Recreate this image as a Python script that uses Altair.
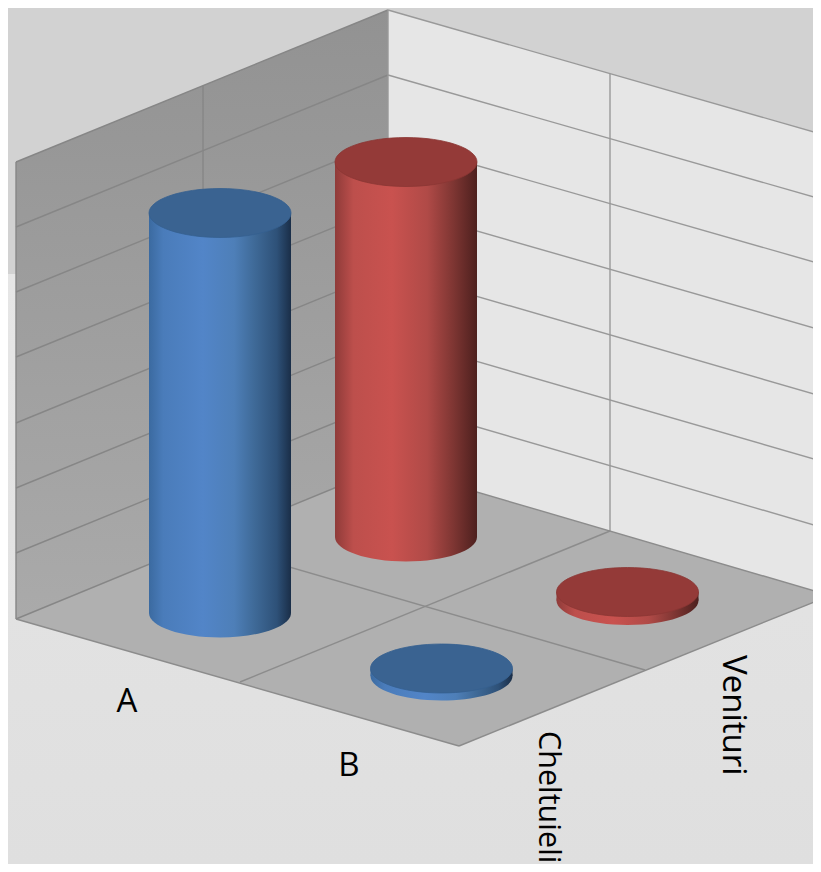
import altair as alt
import pandas as pd

# --- values (picture pixel coordinates) ---
left_wall_x = [16, 388]
left_wall_top = [162, 10]
left_wall_bottom = [619, 466]
right_wall_x = [388, 821]
right_wall_top = [10, 134]
right_wall_bottom = [466, 592.5]
floor_x = [16, 388, 459, 830]
floor_far = [619, 466, 487, 595.5]
floor_near = [619, 725.6, 746, 595.5]

left_grid_a = [162, 227, 292, 357, 423, 488, 553]
right_grid_mid = [10, 75, 140, 205.4, 270.6, 335.7, 401]
right_grid_end = [134, 199, 264, 330, 396, 461, 527]

categories = ["A", "B"]
series = ["Cheltuieli", "Venituri"]
cyl_x = [220, 406, 441.5, 627.5]
cyl_series = ["blue", "red", "blue", "red"]
cyl_top = [213, 162, 668.5, 592]
cyl_base = [613, 537, 676, 600.5]
cyl_half_w = [71, 71, 71, 71]

BLUE_TOP = "#3a6391"
RED_TOP = "#943a38"
blue_grad = alt.Gradient(gradient="linear", x1=0, x2=1, y1=0, y2=0, stops=[
    alt.GradientStop(color="#3b6aa0", offset=0), alt.GradientStop(color="#4a7cba", offset=0.1),
    alt.GradientStop(color="#5285c8", offset=0.38), alt.GradientStop(color="#4e7fb8", offset=0.6),
    alt.GradientStop(color="#3f6a98", offset=0.74), alt.GradientStop(color="#2e5178", offset=0.9),
    alt.GradientStop(color="#1a2e48", offset=1)])
red_grad = alt.Gradient(gradient="linear", x1=0, x2=1, y1=0, y2=0, stops=[
    alt.GradientStop(color="#8f3b39", offset=0), alt.GradientStop(color="#bd4f4c", offset=0.13),
    alt.GradientStop(color="#c9524f", offset=0.4), alt.GradientStop(color="#b04a47", offset=0.65),
    alt.GradientStop(color="#7f3633", offset=0.83), alt.GradientStop(color="#4d201e", offset=1)])

ELLIPSE = "M-1,0C-1,-.19 -.55,-.345 0,-.345C.55,-.345 1,-.19 1,0C1,.19 .55,.345 0,.345C-.55,.345 -1,.19 -1,0Z"
ELLIPSE_SIZE = 142 ** 2

xs = alt.Scale(domain=[8, 813])
ys = alt.Scale(domain=[864, 8])
X = alt.X("x:Q", scale=xs, axis=None)
Y = alt.Y("y:Q", scale=ys, axis=None)


def vgrad(top, bottom):
    return alt.Gradient(gradient="linear", x1=0, x2=0, y1=0, y2=1,
                        stops=[alt.GradientStop(color=top, offset=0), alt.GradientStop(color=bottom, offset=1)])


def rect(x0, x1, y0, y1, fill):
    d = pd.DataFrame({"x": [x0], "x2": [x1], "y": [y0], "y2": [y1]})
    return alt.Chart(d).mark_rect(fill=fill, clip=True).encode(X, alt.X2("x2:Q"), Y, alt.Y2("y2:Q"))


def poly(x, y, y2, fill):
    d = pd.DataFrame({"x": x, "y": y, "y2": y2})
    return alt.Chart(d).mark_area(fill=fill, clip=True, line=False).encode(X, Y, alt.Y2("y2:Q"))


def lines(segments, color, width=1.4):
    rows = []
    for i, (x0, y0, x1, y1) in enumerate(segments):
        rows += [{"x": x0, "y": y0, "id": i}, {"x": x1, "y": y1, "id": i}]
    return alt.Chart(pd.DataFrame(rows)).mark_line(color=color, strokeWidth=width, clip=True).encode(
        X, Y, alt.Detail("id:N"))


def ellipse(x, y, fill, stroke=None):
    d = pd.DataFrame({"x": [x], "y": [y]})
    kw = dict(stroke=stroke, strokeWidth=0.8) if stroke else dict(strokeWidth=0)
    return alt.Chart(d).mark_point(shape=ELLIPSE, size=ELLIPSE_SIZE, filled=True, fill=fill, opacity=1, **kw).encode(X, Y)


layers = [
    rect(8, 813, 8, 274, "#d2d2d2"),
    rect(8, 813, 274, 864, vgrad("#e6e6e6", "#dfdfdf")),
    poly(left_wall_x, left_wall_top, left_wall_bottom, vgrad("#929292", "#aaaaaa")),
    poly(right_wall_x, right_wall_top, right_wall_bottom, "#e6e6e6"),
    poly(floor_x, floor_far, floor_near, "#b0b0b0"),
    lines([(16, a, 388, b) for a, b in zip(left_grid_a, right_grid_mid)] +
          [(203, 86, 203, 542), (16, 162, 16, 619), (16, 619, 388, 466)], "#868686"),
    lines([(388, a, 821, b) for a, b in zip(right_grid_mid, right_grid_end)] +
          [(610, 74, 610, 531), (388, 10, 388, 466)], "#999999"),
    lines([(388, 466, 830, 595.5), (16, 619, 459, 746), (459, 746, 830, 595.5),
           (240, 682, 610, 531), (203, 542, 645, 670)], "#8c8c8c"),
]

for i, (cx, s, top, base, hw) in enumerate(zip(cyl_x, cyl_series, cyl_top, cyl_base, cyl_half_w)):
    grad = blue_grad if s == "blue" else red_grad
    cap = BLUE_TOP if s == "blue" else RED_TOP
    capline = "#35608f" if s == "blue" else "#8a3634"
    layers += [
        ellipse(cx, base, grad),
        rect(cx - hw, cx + hw, top, base, grad),
        ellipse(cx, top, cap, capline),
    ]

labels = pd.DataFrame({"x": [127, 349], "y": [712, 776], "t": categories})
layers.append(alt.Chart(labels).mark_text(font="Open Sans", fontSize=33, color="#000000", align="center",
                                          baseline="alphabetic").encode(X, Y, alt.Text("t:N")))
label_a = pd.DataFrame({"x": [539], "y": [731], "t": [series[0]]})
layers.append(alt.Chart(label_a).mark_text(font="Open Sans", fontSize=30.5, color="#000000", align="left",
                                           baseline="alphabetic", angle=90).encode(X, Y, alt.Text("t:N")))
label_b = pd.DataFrame({"x": [723], "y": [655], "t": [series[1]]})
layers.append(alt.Chart(label_b).mark_text(font="Open Sans", fontSize=33, color="#000000", align="left",
                                           baseline="alphabetic", angle=90).encode(X, Y, alt.Text("t:N")))

chart = alt.layer(*layers).properties(width=805, height=856, padding=0, background="#e3e3e3",
                                      autosize=alt.AutoSizeParams(type="none")).configure_view(stroke=None)
chart.save("out.html", embed_options={"renderer": "svg", "actions": False})
